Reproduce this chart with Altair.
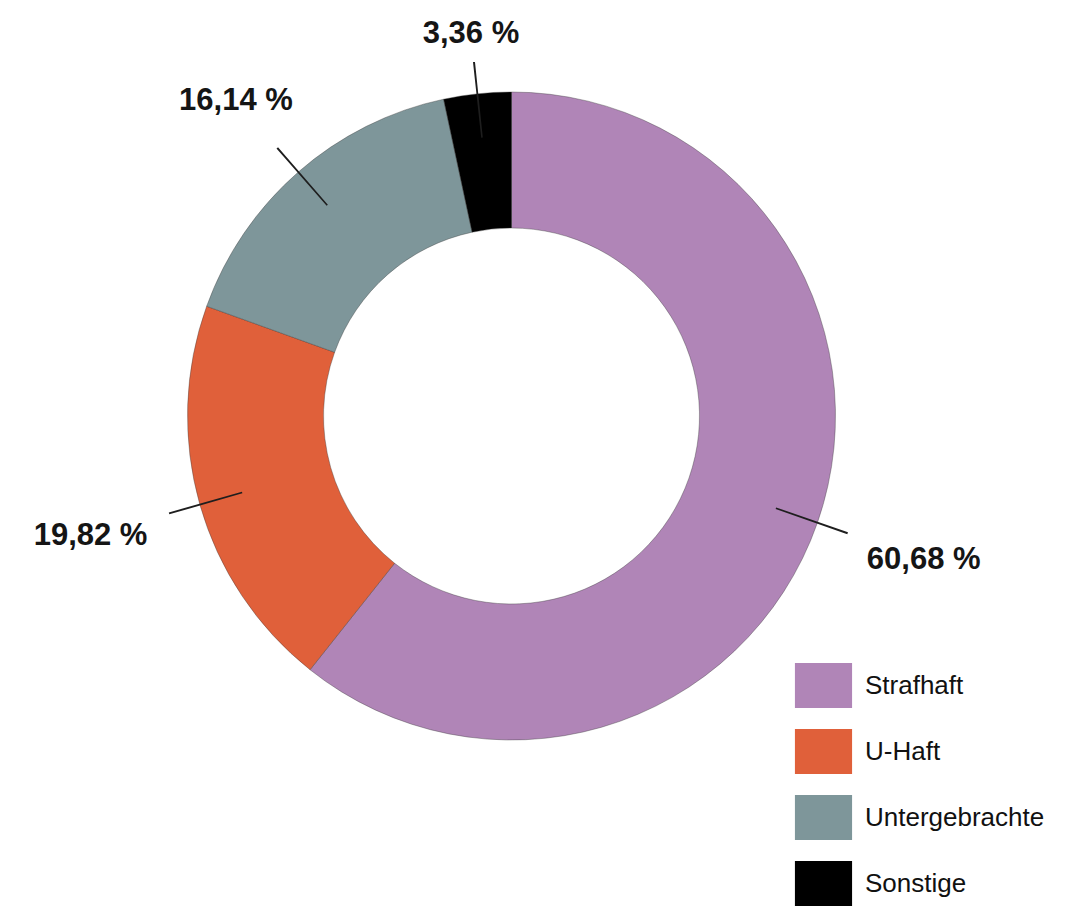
import altair as alt
import pandas as pd

# ---- data ----
categories = ["Strafhaft", "U-Haft", "Untergebrachte", "Sonstige"]
shares = [60.68, 19.82, 16.14, 3.36]
colors = ["#b085b7", "#e0603a", "#7e969a", "#000000"]

df = pd.DataFrame({
    "category": categories,
    "share": shares,
    "idx": list(range(len(categories))),
})
df["label"] = [f"{v:.2f}".replace(".", ",") + " %" for v in shares]

FONT = "Liberation Sans"
R_OUT = 324
R_IN = 188

base = alt.Chart(df)

color = alt.Color(
    "category:N",
    sort=categories,
    scale=alt.Scale(domain=categories, range=colors),
    legend=alt.Legend(
        title=None,
        orient="none",
        legendX=793,
        legendY=655,
        padding=0,
        symbolType="M-1.27,-1L1.27,-1L1.27,1L-1.27,1Z",
        symbolSize=2025,
        symbolStrokeWidth=0,
        symbolOpacity=1,
        labelFont=FONT,
        labelFontSize=26,
        labelColor="#111111",
        labelOffset=19,
        rowPadding=21,
        labelLimit=400,
    ),
)

arcs = base.mark_arc(
    radius=R_OUT, innerRadius=R_IN, stroke="#3a3a3a", strokeWidth=0.7, strokeOpacity=0.55
).encode(
    theta=alt.Theta("share:Q", stack=True),
    color=color,
    order=alt.Order("idx:Q"),
)

geo = base.transform_window(
    cum="sum(share)", sort=[alt.SortField("idx")]
).transform_calculate(
    mid="datum.cum - datum.share / 2",
    t1="datum.mid - 0.045",
    t2="datum.mid + 0.045",
    ang="datum.mid / 100 * 2 * PI",
    lr="378 + 62 * abs(sin(datum.ang))",
)

leaders = geo.mark_arc(radius=356, radius2=280, color="#1e1e1e").encode(
    theta=alt.Theta("t1:Q", stack=False),
    theta2="t2:Q",
)

texts = geo.mark_text(
    font=FONT, fontSize=31, fontWeight="bold", color="#151515",
    align="center", baseline="middle",
).encode(
    theta=alt.Theta("mid:Q", stack=False),
    radius=alt.Radius("lr:Q", scale=None),
    text="label:N",
)

chart = alt.layer(arcs, leaders, texts).properties(
    width=1007, height=816, padding=0, background="white"
).configure_view(strokeWidth=0)

chart.save("out.html", embed_options={"renderer": "svg", "actions": False})
